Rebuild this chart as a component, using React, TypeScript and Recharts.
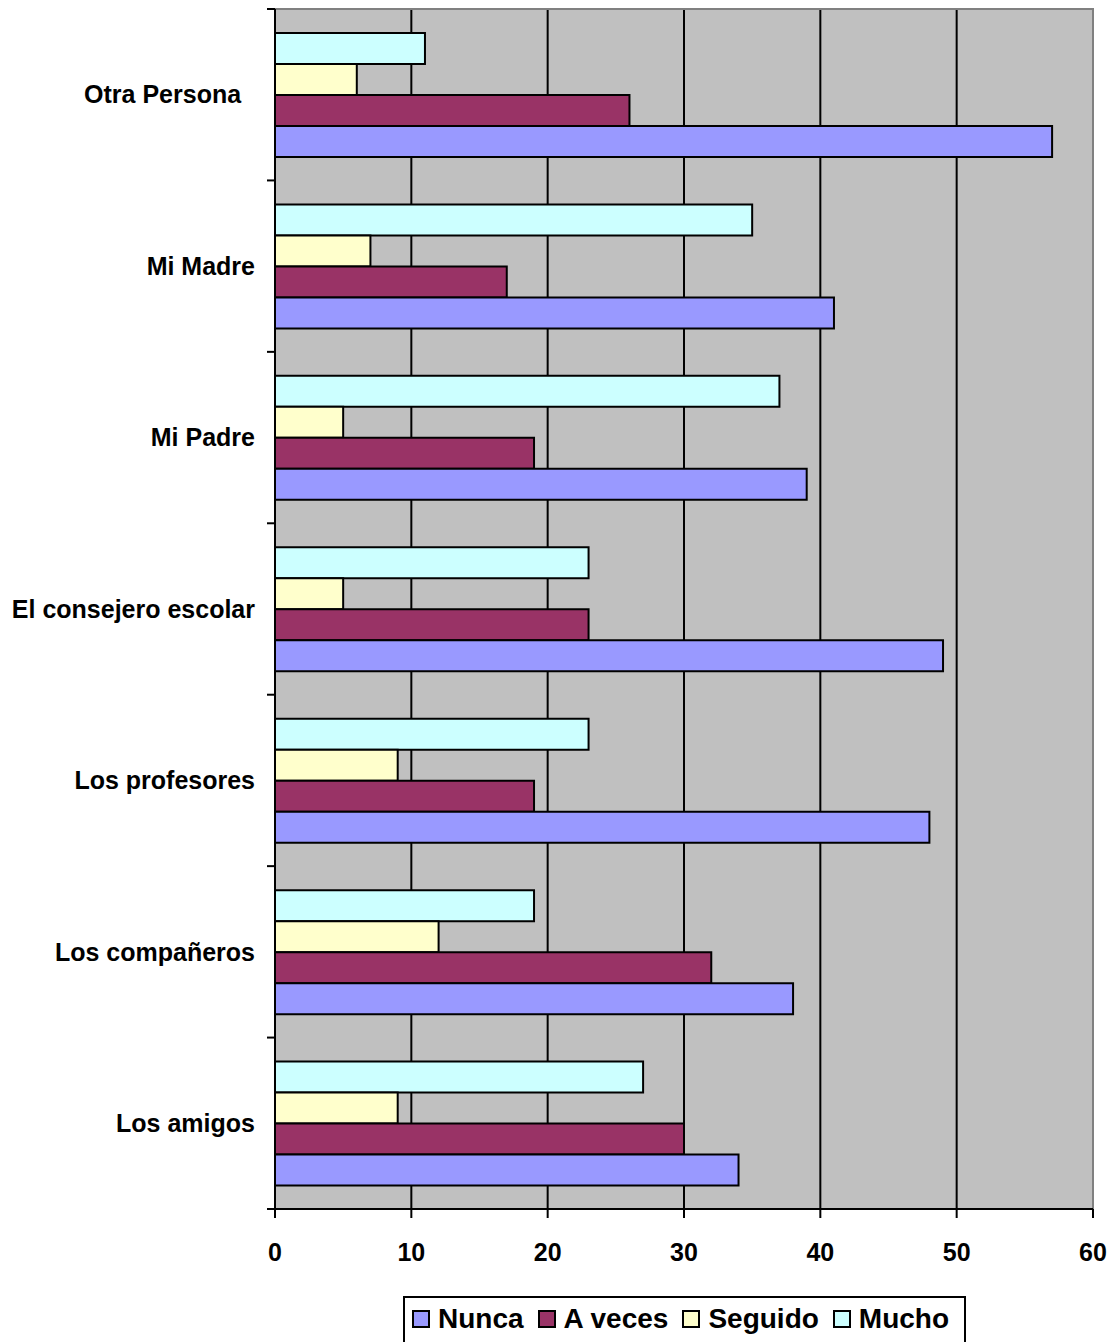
import { Bar, BarChart, CartesianGrid, Legend, ReferenceArea, XAxis, YAxis } from "recharts";

const categories = [
  "Otra Persona  ",
  "Mi Madre",
  "Mi Padre",
  "El consejero escolar",
  "Los profesores",
  "Los compañeros",
  "Los amigos",
];
const nunca = [57, 41, 39, 49, 48, 38, 34];
const aVeces = [26, 17, 19, 23, 19, 32, 30];
const seguido = [6, 7, 5, 5, 9, 12, 9];
const mucho = [11, 35, 37, 23, 23, 19, 27];

const xTicks = [0, 10, 20, 30, 40, 50, 60];
const gridValues = [10, 20, 30, 40, 50];

const series = [
  { key: "nunca", label: "Nunca", color: "#9999FF" },
  { key: "aVeces", label: "A veces", color: "#993366" },
  { key: "seguido", label: "Seguido", color: "#FFFFCC" },
  { key: "mucho", label: "Mucho", color: "#CCFFFF" },
];

const data = categories.map((name, i) => ({
  name,
  nunca: nunca[i],
  aVeces: aVeces[i],
  seguido: seguido[i],
  mucho: mucho[i],
}));

const font = "'Liberation Sans', Arial, sans-serif";

function CategoryTick(props: any) {
  const { x, y, payload, index } = props;
  const half = payload.offset ?? 1200 / categories.length / 2;
  const last = index === categories.length - 1;
  const label = String(payload.value).replace(/ /g, "\u00A0");
  return (
    <g>
      <line x1={x - 8} x2={x} y1={y - half} y2={y - half} stroke="#000" strokeWidth={2} />
      {last && <line x1={x - 8} x2={x} y1={y + half} y2={y + half} stroke="#000" strokeWidth={2} />}
      <text
        x={x - 20}
        y={y}
        dy="0.35em"
        textAnchor="end"
        fill="#000"
        fontFamily={font}
        fontWeight={700}
        fontSize={25}
      >
        {label}
      </text>
    </g>
  );
}

function LegendBox() {
  return (
    <div
      style={{
        width: 563,
        boxSizing: "border-box",
        border: "2px solid #000",
        background: "#fff",
        display: "flex",
        alignItems: "center",
        padding: "5px 0 12px 7px",
        fontFamily: font,
        fontWeight: 700,
        fontSize: 28,
        color: "#000",
        whiteSpace: "nowrap",
      }}
    >
      {series.map((s) => (
        <span key={s.key} style={{ display: "flex", alignItems: "center", marginRight: 14 }}>
          <span
            style={{
              display: "inline-block",
              width: 14,
              height: 14,
              background: s.color,
              border: "2px solid #000",
              marginRight: 8,
            }}
          />
          {s.label}
        </span>
      ))}
    </div>
  );
}

export default function App() {
  return (
    <div style={{ position: "absolute", left: 0, top: 0, width: 1114, height: 1342, overflow: "hidden", background: "#fff" }}>
      <BarChart
        width={1114}
        height={1342}
        data={data}
        layout="vertical"
        margin={{ top: 9, right: 21, left: 0, bottom: 73 }}
        barCategoryGap="14%"
        barGap={0}
      >
        <CartesianGrid
          horizontal={false}
          verticalValues={gridValues}
          stroke="#000"
          strokeWidth={2}
          fill="#C0C0C0"
          fillOpacity={1}
        />
        <ReferenceArea x1={0} x2={60} fill="none" stroke="#808080" strokeWidth={2} ifOverflow="visible" />
        <XAxis
          type="number"
          domain={[0, 60]}
          ticks={xTicks}
          height={60}
          axisLine={{ stroke: "#000", strokeWidth: 2 }}
          tickLine={{ stroke: "#000", strokeWidth: 2 }}
          tickSize={9}
          tickMargin={25}
          tick={{ fill: "#000", fontSize: 25, fontWeight: 700, fontFamily: font }}
        />
        <YAxis
          type="category"
          dataKey="name"
          width={275}
          axisLine={{ stroke: "#000", strokeWidth: 2 }}
          tickLine={false}
          tickSize={0}
          tickMargin={0}
          interval={0}
          tick={<CategoryTick />}
        />
        <Legend
          layout="horizontal"
          verticalAlign="middle"
          align="center"
          wrapperStyle={{ top: 1296, left: 403, width: 563 }}
          content={() => <LegendBox />}
        />
        {[...series].reverse().map((s) => (
          <Bar
            key={s.key}
            dataKey={s.key}
            name={s.label}
            fill={s.color}
            stroke="#000"
            strokeWidth={2}
            isAnimationActive={false}
          />
        ))}
      </BarChart>
    </div>
  );
}
